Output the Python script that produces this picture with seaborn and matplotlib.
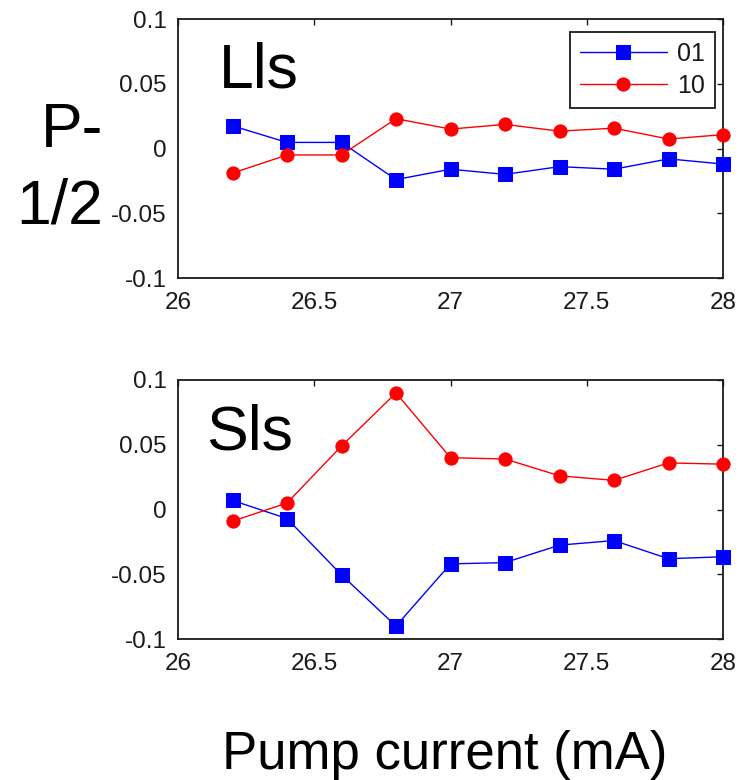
import numpy as np
import pandas as pd
import matplotlib
matplotlib.use("Agg")
import matplotlib.pyplot as plt
import seaborn as sns

# ---- data ----
pump_current = [26.2, 26.4, 26.6, 26.8, 27.0, 27.2, 27.4, 27.6, 27.8, 28.0]
lls_01 = [0.0175, 0.0047, 0.0047, -0.024, -0.016, -0.020, -0.014, -0.016, -0.008, -0.012]
lls_10 = [-0.019, -0.005, -0.005, 0.023, 0.015, 0.0186, 0.0134, 0.0157, 0.0073, 0.0107]
sls_01 = [0.007, -0.007, -0.0505, -0.090, -0.042, -0.041, -0.0275, -0.024, -0.038, -0.0365]
sls_10 = [-0.009, 0.005, 0.049, 0.090, 0.040, 0.039, 0.026, 0.0225, 0.036, 0.035]
series_names = ["01", "10"]
panel_names = ["Lls", "Sls"]
x_ticks = [26, 26.5, 27, 27.5, 28]
y_ticks = [-0.1, -0.05, 0, 0.05, 0.1]
y_ticklabels = ["-0.1", "-0.05", "0", "0.05", "0.1"]
x_ticklabels = ["26", "26.5", "27", "27.5", "28"]

sns.set_style("white")
plt.rcParams["font.family"] = ["Liberation Sans", "DejaVu Sans"]
plt.rcParams["text.color"] = "black"

fig = plt.figure(figsize=(7.48, 7.80), dpi=100)
W, H = 748.0, 780.0
left, right = 178, 723
ax_top = fig.add_axes([left / W, 1 - 278 / H, (right - left) / W, 259 / H])
ax_bot = fig.add_axes([left / W, 1 - 639 / H, (right - left) / W, 259 / H])

styles = {
    "01": dict(color="#0000FF", marker="s", markersize=10),
    "10": dict(color="#FF0000", marker="o", markersize=9.5),
}

panels = [(ax_top, lls_01, lls_10, panel_names[0], (0.075, 0.737)),
          (ax_bot, sls_01, sls_10, panel_names[1], (0.051, 0.730))]

for ax, s01, s10, pname, pos in panels:
    df = pd.DataFrame({"x": pump_current * 2,
                       "y": list(s01) + list(s10),
                       "series": [series_names[0]] * len(pump_current) + [series_names[1]] * len(pump_current)})
    for name in series_names:
        st = styles[name]
        sub = df[df["series"] == name]
        sns.lineplot(data=sub, x="x", y="y", ax=ax, color=st["color"],
                     marker=st["marker"], markersize=st["markersize"],
                     markeredgecolor=st["color"], markerfacecolor=st["color"],
                     linewidth=1.0, label=name, legend=False, clip_on=False, zorder=3)
    ax.set_xlim(26, 28)
    ax.set_ylim(-0.1, 0.1)
    ax.set_xticks(x_ticks)
    ax.set_xticklabels(x_ticklabels)
    ax.set_yticks(y_ticks)
    ax.set_yticklabels(y_ticklabels)
    ax.set_xlabel("")
    ax.set_ylabel("")
    ax.tick_params(axis="both", which="major", direction="in", length=4.5, width=1.0,
                   top=True, right=True, labelsize=17.5, colors="#1a1a1a")
    ax.tick_params(axis="x", pad=10)
    ax.tick_params(axis="y", pad=8)
    for sp in ax.spines.values():
        sp.set_visible(True)
        sp.set_color("#1a1a1a")
        sp.set_linewidth(1.3)
    ax.text(pos[0], pos[1], pname, transform=ax.transAxes, fontsize=45,
            va="baseline", ha="left", color="black")

leg = ax_top.legend(loc="upper right", bbox_to_anchor=((715 - left) / (right - left), (278 - 32) / 259),
                    borderaxespad=0, fontsize=18, frameon=True, fancybox=False,
                    handlelength=3.5, handletextpad=0.4, labelspacing=0.3,
                    borderpad=0.4)
leg.get_frame().set_edgecolor("#1a1a1a")
leg.get_frame().set_linewidth(1.3)
leg.get_frame().set_alpha(1)
for t in leg.get_texts():
    t.set_color("#1a1a1a")
if ax_bot.get_legend() is not None:
    ax_bot.get_legend().remove()

fig.text(103 / W, 1 - 147 / H, "P-", fontsize=45, ha="right", va="baseline", color="black")
fig.text(103 / W, 1 - 223 / H, "1/2", fontsize=45, ha="right", va="baseline", color="black")
fig.text(445 / W, 1 - 769 / H, "Pump current (mA)", fontsize=38, ha="center", va="baseline", color="black")

fig.savefig("out.png", dpi=100)
